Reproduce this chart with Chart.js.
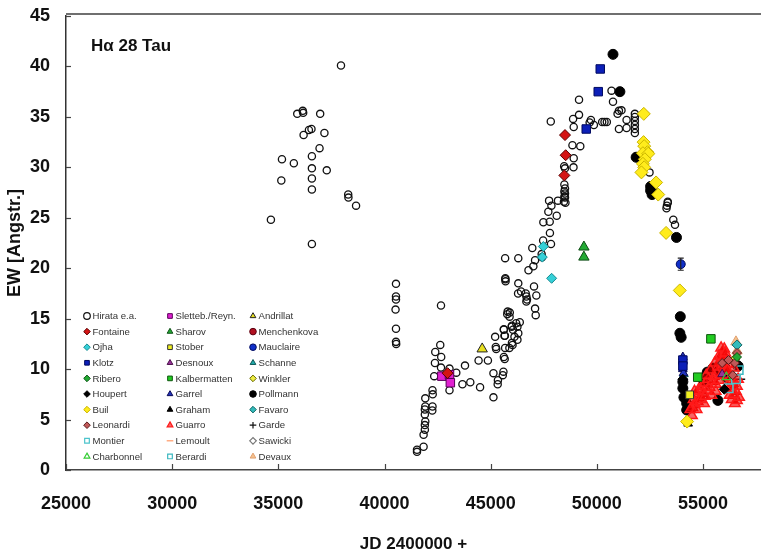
<!DOCTYPE html>
<html>
<head>
<meta charset="utf-8">
<script src="https://cdn.jsdelivr.net/npm/chart.js@4.4.1/dist/chart.umd.min.js"></script>
<style>
  html, body { margin: 0; padding: 0; background: #fff; }
  #wrap { width: 761px; height: 557px; }
</style>
</head>
<body>
<div id="wrap"><canvas id="chart" width="761" height="557"></canvas></div>
<script>
// ------------------------------------------------------------
// Data: [JD - 2400000, EW in Angstrom]
// ------------------------------------------------------------
const hirata = [
  [37950,40.1],[35890,35.3],[36150,35.6],[36170,35.4],[36970,35.3],[36190,33.2],[36440,33.7],[36560,33.8],
  [37170,33.4],[36940,31.9],[35170,30.8],[35730,30.4],[36580,31.1],[36580,29.9],[37280,29.7],[35140,28.7],
  [36580,28.9],[36580,27.8],[38290,27.3],[38300,27.0],[38660,26.2],[34650,24.8],[36580,22.4],
  [40540,18.45],[40540,17.2],[40540,16.9],[40520,15.9],[40540,14.0],[40540,12.7],[40550,12.5],
  [42660,16.3],[42625,12.4],[42390,11.7],[42670,11.2],[42375,10.6],[42660,10.15],[42340,9.3],[43060,10.05],
  [43380,9.65],[43790,10.35],[43060,7.9],[43670,8.5],[44040,8.7],[44500,8.2],[44430,10.85],[44870,10.85],
  [45130,7.2],[45130,9.6],[45210,13.2],[45240,12.2],[45260,12.0],[45620,13.9],[45650,13.3],[45680,12.1],
  [45620,11.2],[45660,11.0],[45600,9.75],[45570,9.4],[45340,8.9],[45330,8.5],
  [42260,7.9],[42270,7.5],[42260,6.3],[42250,5.9],[41920,7.1],[41920,6.3],[41900,6.0],[41900,5.5],
  [41920,4.8],[41900,4.45],[41900,4.0],[41840,3.5],[41840,2.3],[41530,2.0],[41530,1.8],
  [45680,21.0],[45690,18.9],[45700,18.7],[47830,34.55],[48500,29.9],[48500,27.9],[48500,27.4],[48500,27.0],
  [48520,26.5],[47750,26.7],[47860,26.2],[48170,26.7],[47715,25.6],[48110,25.2],[47780,24.6],[47480,24.55],
  [47790,23.5],[47840,22.4],[47470,22.75],[46960,22.0],[47400,21.4],[47420,21.1],[46300,21.0],
  [47090,20.8],[47010,20.2],[46780,19.8],[45690,19.0],[46300,18.5],[46430,17.7],[46290,17.5],[46680,17.2],
  [46710,16.9],[47040,18.2],[47150,17.3],[47090,16.0],[47120,15.35],[45900,15.6],[45890,15.2],[46370,14.65],
  [46260,14.2],[46000,14.3],[45620,13.95],[46300,13.55],[46260,12.9],[46030,12.4],[45670,13.3],
  [45990,14.2],[46050,13.9],[46200,14.55],[46120,13.2],[45880,12.1],[46000,12.6],[45800,15.7],[45780,15.45],
  [46650,17.5],[46680,16.7],
  [50690,37.6],[50760,36.5],[51040,35.6],[51160,35.65],[50975,35.3],[49160,36.7],[48880,34.8],[49160,35.2],
  [48910,34.0],[49720,34.7],[49660,34.45],[49860,34.2],[50250,34.5],[50360,34.5],[50470,34.5],[51040,33.8],
  [51400,33.9],[51400,34.7],[51790,35.3],[51790,35.0],[51790,34.6],[51790,34.2],[51790,33.8],[51790,33.4],
  [48850,32.2],[49220,32.1],[48910,30.9],[48900,30.0],[48460,30.1],[48470,28.3],[48470,27.6],[48470,27.1],
  [48450,26.6],[52480,29.5],[52650,27.85],[53340,26.6],[53300,26.2],[53340,26.5],[53280,25.95],[53600,24.8],
  [53680,24.3]
];
const fontaine    = [[48500,33.2],[48530,31.2],[48470,29.2],[42970,9.6]];
const ojha        = [[47480,22.15],[47430,21.1],[47870,19.0]];
const klotz       = [[50160,39.75],[50065,37.5],[49500,33.8],[54050,10.9],[54050,10.3]];
const ribero      = [[56600,11.2]];
const houpert     = [[54050,9.0],[56000,8.0]];
const buil        = [[52210,35.3],[52200,32.5],[52230,32.1],[52380,31.5],[52170,31.4],[52420,31.35],[52260,30.8],
                     [52170,30.35],[52230,30.0],[52100,29.5],[52790,28.5],[52890,27.3],[53260,23.5],[53905,17.8],[54250,4.8]];
const leonardi    = [[55900,10.6],[56200,10.9],[56500,10.6],[56400,9.4],[56600,11.6]];
const montier     = [[56210,8.1],[56550,9.0]];
const charbonnel  = [[56100,9.2]];
const sletteb     = [[42700,9.3],[43060,9.45],[43100,8.65]];
const sharov      = [[49390,22.1],[49390,21.1]];
const stober      = [[54370,7.45]];
const desnoux     = [[55900,9.5]];
const kalbermatten = [[55370,13.0],[54750,9.2]];
const garrel      = [[54050,11.2],[54050,10.0],[54080,9.6]];
const graham      = [[54300,4.6]];
const guarro      = [
  [54500,6.2],[54550,7.0],[54600,6.5],[54700,7.5],[54750,6.8],[54800,8.0],[54850,7.2],[54950,8.3],[55000,7.6],
  [55050,6.6],[55100,8.6],[55200,7.9],[55250,9.0],[55300,8.2],[55400,7.4],[55450,8.8],[55500,9.3],[55600,8.5],
  [55650,9.6],[55700,10.2],[55750,8.9],[55800,10.8],[55850,9.4],[55900,11.5],[55950,10.4],[56000,12.0],
  [56050,9.8],[56100,11.0],[56150,8.3],[56200,10.5],[56250,7.4],[56300,9.2],[56350,7.0],[56400,8.6],
  [56450,10.1],[56500,6.6],[56550,7.8],[56600,6.9],[56650,9.0],[56700,7.2],[54480,5.4],[54400,6.0],
  [54600,7.8],[54700,6.0],[54900,7.0],[55100,7.3],[55150,9.4],[55350,9.9],[55550,10.6],[55600,7.8],
  [55750,11.3],[55850,12.1],[55950,11.0],[56050,11.6],[56150,9.9],[56350,8.0],[56450,7.5],[56600,8.3]
];
const lemoult     = [[56000,10.6],[56300,8.8]];
const berardi     = [[56680,9.9]];
const andrillat   = [[44600,12.0]];
const menchenkova = [[56100,10.1]];
const mauclaire   = [[53950,20.4]];
const mauclaireErr = [0.6];
const schanne     = [[54100,9.5]];
const winkler     = [[56500,11.0]];
const pollmann    = [
  [50760,41.2],[51085,37.5],[51850,31.0],[52530,28.1],[52530,27.7],[52600,27.3],[53750,23.05],[53930,15.2],
  [53910,13.55],[53970,13.15],[54050,8.75],[54050,8.1],[54230,6.6],[54230,5.95],[55470,10.1],[55700,6.9],
  [55030,8.9],[55200,9.7],[55800,9.8],[56100,9.2],[56400,8.6],[56650,10.3],[54100,7.2]
];
const favaro      = [[56600,12.4]];
const garde       = [[56400,9.3],[56750,9.0]];
const sawicki     = [[56650,10.5]];
const devaux      = [[56550,12.7],[56600,11.8]];

const xTicks = [25000, 30000, 35000, 40000, 45000, 50000, 55000];
const yTicks = [0, 5, 10, 15, 20, 25, 30, 35, 40, 45];
const X_MIN = 25000, X_MAX = 57730;
const Y_MIN = 0, Y_MAX = 45;

const FONT = 'Arial, "Liberation Sans", Helvetica, sans-serif';

// name, data, marker style  (legend is filled column by column, 10 rows)
const series = [
  ['Hirata e.a.',    hirata,      { s: 'circle',   r: 3.6, f: 'rgba(255,255,255,0)', b: '#111', w: 1.3, order: 9 }],
  ['Fontaine',       fontaine,    { s: 'rectRot',  r: 5.5, f: '#d41414', b: '#5a0000', w: 1 }],
  ['Ojha',           ojha,        { s: 'rectRot',  r: 5,   f: '#35d0d8', b: '#168a90', w: 1 }],
  ['Klotz',          klotz,       { s: 'rect',     r: 6,   f: '#0c1fb8', b: '#000a60', w: 1 }],
  ['Ribero',         ribero,      { s: 'rectRot',  r: 4.5, f: '#22aa33', b: '#0d5515', w: 1 }],
  ['Houpert',        houpert,     { s: 'rectRot',  r: 5,   f: '#000',    b: '#000',    w: 1 }],
  ['Buil',           buil,        { s: 'rectRot',  r: 6.5, f: '#ffec1c', b: '#c9b400', w: 1 }],
  ['Leonardi',       leonardi,    { s: 'rectRot',  r: 4.5, f: '#c05858', b: '#5a1a1a', w: 1 }],
  ['Montier',        montier,     { s: 'rect',     r: 6,   f: 'rgba(255,255,255,0)', b: '#4cc4cc', w: 1.5 }],
  ['Charbonnel',     charbonnel,  { s: 'triangle', r: 5,   f: 'rgba(255,255,255,0)', b: '#33cc33', w: 1.2 }],
  ['Sletteb./Reyn.', sletteb,     { s: 'rect',     r: 6,   f: '#e020d0', b: '#5a005a', w: 1 }],
  ['Sharov',         sharov,      { s: 'triangle', r: 6,   f: '#22aa33', b: '#0d4d15', w: 1 }],
  ['Stober',         stober,      { s: 'rect',     r: 5.5, f: '#f0f020', b: '#333',    w: 1 }],
  ['Desnoux',        desnoux,     { s: 'triangle', r: 5,   f: '#993399', b: '#4a104a', w: 1 }],
  ['Kalbermatten',   kalbermatten,{ s: 'rect',     r: 6,   f: '#22cc22', b: '#0d550d', w: 1 }],
  ['Garrel',         garrel,      { s: 'triangle', r: 5,   f: '#2233bb', b: '#0a0a55', w: 1 }],
  ['Graham',         graham,      { s: 'triangle', r: 5,   f: '#000',    b: '#000',    w: 1 }],
  ['Guarro',         guarro,      { s: 'triangle', r: 6,   f: 'rgba(240,0,0,0.6)', b: '#ff1a1a', w: 1.5 }],
  ['Lemoult',        lemoult,     { s: 'line',     r: 5,   f: '#ff9966', b: '#ff9966', w: 2 }],
  ['Berardi',        berardi,     { s: 'rect',     r: 6,   f: 'rgba(255,255,255,0)', b: '#3cb8c0', w: 1.5 }],
  ['Andrillat',      andrillat,   { s: 'triangle', r: 6,   f: '#e8e020', b: '#222',    w: 1 }],
  ['Menchenkova',    menchenkova, { s: 'circle',   r: 4,   f: '#b01020', b: '#5a0010', w: 1 }],
  ['Mauclaire',      mauclaire,   { s: 'circle',   r: 4.5, f: '#1030c8', b: '#000a60', w: 1 }],
  ['Schanne',        schanne,     { s: 'triangle', r: 5,   f: '#22aaaa', b: '#0d5555', w: 1 }],
  ['Winkler',        winkler,     { s: 'rectRot',  r: 5,   f: '#eeee44', b: '#666600', w: 1 }],
  ['Pollmann',       pollmann,    { s: 'circle',   r: 5,   f: '#000',    b: '#000',    w: 1 }],
  ['Favaro',         favaro,      { s: 'rectRot',  r: 5,   f: '#33bbbb', b: '#116666', w: 1 }],
  ['Garde',          garde,       { s: 'cross',    r: 5,   f: '#111',    b: '#111',    w: 1.5 }],
  ['Sawicki',        sawicki,     { s: 'rectRot',  r: 4.5, f: 'rgba(255,255,255,0)', b: '#777', w: 1.2 }],
  ['Devaux',         devaux,      { s: 'triangle', r: 6,   f: '#f6c28e', b: '#e0a070', w: 1 }]
];

const datasets = series.map(([name, pts, st]) => ({
  label: name,
  data: pts.map(p => ({ x: p[0], y: p[1] })),
  pointStyle: st.s,
  pointRadius: st.r,
  pointBackgroundColor: st.f,
  pointBorderColor: st.b,
  pointBorderWidth: st.w,
  showLine: false,
  order: st.order || 0,
  legendStyle: st
}));

// ------------------------------------------------------------
// Plugin: frame, inward ticks, error bar, title text, legend
// ------------------------------------------------------------
function marker(ctx, st, x, y, r) {
  ctx.save();
  ctx.fillStyle = st.f;
  ctx.strokeStyle = st.b;
  ctx.lineWidth = Math.min(st.w, 1.2);
  if (Chart.helpers && Chart.helpers.drawPoint) {
    Chart.helpers.drawPoint(ctx, { pointStyle: st.s, radius: r, borderWidth: ctx.lineWidth, rotation: 0 }, x, y);
  } else {
    ctx.beginPath(); ctx.arc(x, y, r, 0, Math.PI * 2); ctx.fill(); ctx.stroke();
  }
  ctx.restore();
}

const extras = {
  id: 'extras',
  afterDatasetsDraw(chart) {
    const { ctx, chartArea: a, scales: { x, y } } = chart;
    ctx.save();

    // top frame line
    ctx.strokeStyle = '#6f6f6f';
    ctx.lineWidth = 2;
    ctx.beginPath(); ctx.moveTo(a.left, a.top - 2); ctx.lineTo(a.right, a.top - 2); ctx.stroke();

    // tick marks pointing into the plot
    ctx.strokeStyle = '#444';
    ctx.lineWidth = 1.2;
    x.ticks.forEach(t => {
      const px = Math.round(x.getPixelForValue(t.value)) + 0.5;
      ctx.beginPath(); ctx.moveTo(px, a.bottom); ctx.lineTo(px, a.bottom - 6); ctx.stroke();
    });
    y.ticks.forEach(t => {
      const py = Math.round(y.getPixelForValue(t.value)) + 0.5;
      ctx.beginPath(); ctx.moveTo(a.left, py); ctx.lineTo(a.left + 5, py); ctx.stroke();
    });

    // error bar on Mauclaire point
    ctx.strokeStyle = '#222';
    ctx.lineWidth = 1.2;
    mauclaire.forEach((p, i) => {
      const px = x.getPixelForValue(p[0]);
      const y1 = y.getPixelForValue(p[1] + mauclaireErr[i]);
      const y2 = y.getPixelForValue(p[1] - mauclaireErr[i]);
      ctx.beginPath();
      ctx.moveTo(px, y1); ctx.lineTo(px, y2);
      ctx.moveTo(px - 3, y1); ctx.lineTo(px + 3, y1);
      ctx.moveTo(px - 3, y2); ctx.lineTo(px + 3, y2);
      ctx.stroke();
    });

    // panel title
    ctx.fillStyle = '#111';
    ctx.font = 'bold 17px ' + FONT;
    ctx.textBaseline = 'middle';
    ctx.textAlign = 'left';
    ctx.fillText('H\u03b1 28 Tau', a.left + 25, a.top + 30);

    // legend, 3 columns x 10 rows
    const rows = 10, colW = 83, rowH = 15.6;
    const lx = a.left + 21, ly = a.top + 300;
    ctx.font = '9.6px ' + FONT;
    chart.data.datasets.forEach((ds, i) => {
      const c = Math.floor(i / rows), r = i % rows;
      const mx = lx + c * colW, my = ly + r * rowH;
      marker(ctx, ds.legendStyle, mx, my, 3.3);
      ctx.fillStyle = '#333';
      ctx.fillText(ds.label, mx + 5.5, my + 0.5);
    });
    ctx.restore();
  }
};

new Chart(document.getElementById('chart'), {
  type: 'scatter',
  data: { datasets },
  options: {
    responsive: false,
    animation: false,
    events: [],
    layout: { autoPadding: false, padding: { left: 0, top: 16, right: 0, bottom: 0 } },
    plugins: { legend: { display: false }, tooltip: { enabled: false } },
    scales: {
      x: {
        type: 'linear',
        min: X_MIN, max: X_MAX,
        grid: { display: false },
        border: { display: true, color: '#444', width: 1.5 },
        afterBuildTicks: s => { s.ticks = xTicks.map(v => ({ value: v })); },
        ticks: {
          padding: 15, maxRotation: 0, autoSkip: false,
          color: '#111', font: { family: FONT, size: 18, weight: 'bold' },
          callback: v => String(v)
        },
        title: {
          display: true, text: 'JD 2400000 +', color: '#111',
          font: { family: FONT, size: 17, weight: 'bold' },
          padding: { top: 0, bottom: 2 }
        },
        afterFit: s => { s.height = 87; s.paddingLeft = 0; s.paddingRight = 0; }
      },
      y: {
        min: Y_MIN, max: Y_MAX,
        grid: { display: false },
        border: { display: true, color: '#333', width: 1.5 },
        afterBuildTicks: s => { s.ticks = yTicks.map(v => ({ value: v })); },
        ticks: {
          padding: 8, autoSkip: false,
          color: '#111', font: { family: FONT, size: 18, weight: 'bold' }
        },
        title: {
          display: true, text: 'EW [Angstr.]', color: '#111',
          font: { family: FONT, size: 18, weight: 'bold' },
          padding: { top: 4, bottom: 0 }
        },
        afterFit: s => { s.width = 66; s.paddingTop = 0; s.paddingBottom = 0; }
      }
    }
  },
  plugins: [extras]
});
</script>
</body>
</html>
